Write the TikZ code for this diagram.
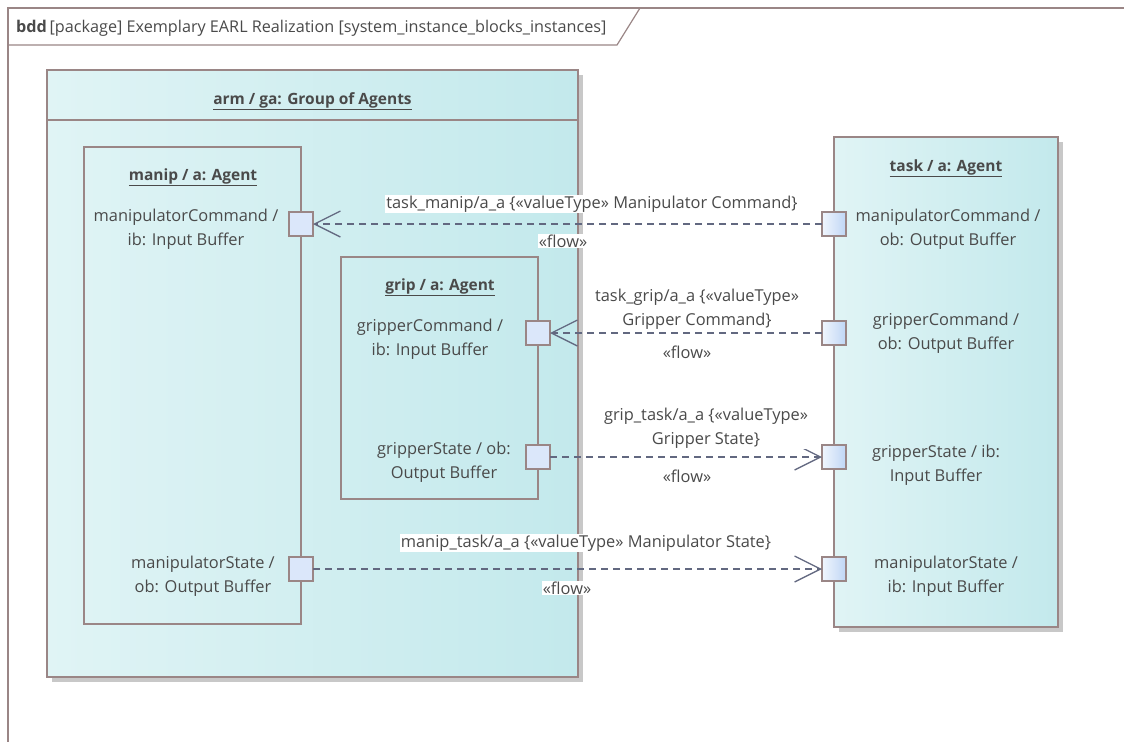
\documentclass[tikz,border=0pt]{standalone}
\usepackage{fontspec}
\setmainfont{Open Sans}
\usetikzlibrary{arrows.meta}
\definecolor{frm}{HTML}{9A8686}
\definecolor{txt}{HTML}{4A4A4A}
\definecolor{cyanL}{HTML}{E0F4F5}
\definecolor{cyanR}{HTML}{C3E9EC}
\definecolor{portF}{HTML}{DBE7FA}
\definecolor{portR}{HTML}{BFD6F5}
\definecolor{con}{HTML}{626880}
\definecolor{shd}{HTML}{C8C8C8}
\tikzset{
  every node/.style={text=txt, font=\fontsize{16.4}{24}\selectfont},
  blockbox/.style={draw=frm, line width=1.2pt, left color=cyanL, right color=cyanR},
  innerbox/.style={draw=frm, line width=1.2pt},
  portA/.style={draw=frm, line width=1.2pt, fill=portF, minimum size=24pt, inner sep=0pt, outer sep=0pt},
  portB/.style={draw=frm, line width=1.2pt, left color=white!60!portF, right color=portR, minimum size=24pt, inner sep=0pt, outer sep=0pt},
  plabel/.style={align=center, inner sep=0pt},
  title/.style={font=\fontsize{15.5}{24}\selectfont\bfseries, inner sep=0pt},
  flowline/.style={draw=con, line width=1.3pt, dash pattern=on 7pt off 5pt, -{Straight Barb[length=26pt, width=26pt, line width=1.3pt]}},
  clabel/.style={fill=white, align=center, inner sep=1pt},
}
\newcommand{\ul}[1]{\underline{#1}}
\begin{document}
\begin{tikzpicture}[x=1pt,y=-1pt]
\useasboundingbox (0,0) rectangle (1124,742);
% outer frame
\draw[frm, line width=1.2pt] (1124,8) -- (8,8) -- (8,742);
\draw[frm, line width=1.2pt] (8,45) -- (617,45) -- (640,8);
\node[anchor=west, inner sep=0pt, font=\fontsize{16.2}{18}\selectfont] (hdr) at (16,28) {\textbf{bdd}\,[package] Exemplary EARL Realization [system\_instance\_blocks\_instances]};
% group box
\fill[shd] (52,75) rectangle (583,682);
\draw[blockbox] (47,70) rectangle (578,677);
\draw[frm, line width=1.2pt] (47,120) -- (578,120);
\node[title] (gtitle) at (312.5,101) {\ul{arm / ga: Group of Agents}};
% manip box
\draw[innerbox] (84,147) rectangle (301,624);
\node[title] (mtitle) at (193,177) {\ul{manip / a: Agent}};
% grip box
\draw[innerbox] (341,257) rectangle (538,499);
\node[title] (gptitle) at (440,287) {\ul{grip / a: Agent}};
% task box
\fill[shd] (839,142) rectangle (1063,632);
\draw[blockbox] (834,137) rectangle (1058,627);
\node[title] (ttitle) at (946,168) {\ul{task / a: Agent}};
% ports
\node[portA] (pmc) at (301,224) {};
\node[portA] (pms) at (301,569) {};
\node[portA] (pgc) at (538,333) {};
\node[portA] (pgs) at (538,457) {};
\node[portB] (tmc) at (834,224) {};
\node[portB] (tgc) at (834,333) {};
\node[portB] (tgs) at (834,457) {};
\node[portB] (tms) at (834,569) {};
% port labels
\node[plabel] (lpmc) at (186,229) {manipulatorCommand /\\ib: Input Buffer};
\node[plabel] (lpms) at (203,576) {manipulatorState /\\ob: Output Buffer};
\node[plabel] (lpgc) at (430,339) {gripperCommand /\\ib: Input Buffer};
\node[plabel] (lpgs) at (444,462) {gripperState / ob:\\Output Buffer};
\node[plabel] (ltmc) at (948,229) {manipulatorCommand /\\ob: Output Buffer};
\node[plabel] (ltgc) at (946,333) {gripperCommand /\\ob: Output Buffer};
\node[plabel] (ltgs) at (936,465) {gripperState / ib:\\Input Buffer};
\node[plabel] (ltms) at (946,576) {manipulatorState /\\ib: Input Buffer};
% connectors
\draw[flowline] (tmc.west) -- (pmc.east);
\draw[flowline] (tgc.west) -- (pgc.east);
\draw[flowline] (pgs.east) -- (tgs.west);
\draw[flowline] (pms.east) -- (tms.west);
% connector labels
\node[clabel] (c1) at (592,204) {task\_manip/a\_a \{«valueType» Manipulator Command\}};
\node[clabel] (f1) at (563,241) {«flow»};
\node[clabel] (c2) at (697,309) {task\_grip/a\_a \{«valueType»\\Gripper Command\}};
\node[clabel] (f2) at (687,352) {«flow»};
\node[clabel] (c3) at (706,428) {grip\_task/a\_a \{«valueType»\\Gripper State\}};
\node[clabel] (f3) at (687,476) {«flow»};
\node[clabel] (c4) at (586,543) {manip\_task/a\_a \{«valueType» Manipulator State\}};
\node[clabel] (f4) at (567,588) {«flow»};
\end{tikzpicture}
\end{document}
